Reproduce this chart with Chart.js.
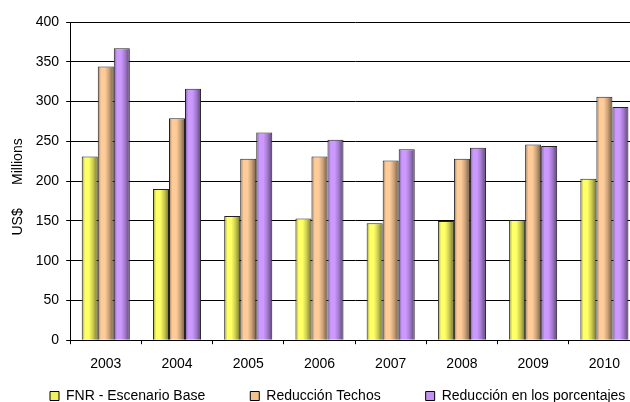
<!DOCTYPE html>
<html>
<head>
<meta charset="utf-8">
<script src="https://cdn.jsdelivr.net/npm/chart.js@4.4.1/dist/chart.umd.min.js"></script>
<style>
  html, body { margin: 0; padding: 0; background: #fff; overflow: hidden; }
  #wrap { width: 640px; height: 402px; position: relative; }
</style>
</head>
<body>
<div id="wrap"><canvas id="c"></canvas></div>
<script>
const years = ['2003', '2004', '2005', '2006', '2007', '2008', '2009', '2010'];
const seriesNames = ['FNR - Escenario Base', 'Reducción Techos', 'Reducción en los porcentajes'];
const fnrBase = [231, 190, 156, 153, 147, 150, 151, 203];
const reduccionTechos = [344, 279, 228, 231, 226, 228, 246, 306];
const reduccionPorcentajes = [367, 316, 261, 252, 240, 242, 244, 293];
const yTicks = [0, 50, 100, 150, 200, 250, 300, 350, 400];

const baseColors = [[255, 255, 102], [255, 204, 153], [204, 153, 255]];
const CAT_PCT = 0.675;
const FONT = 'Liberation Sans, Arial, sans-serif';

// Legend placement (first box left edge, row top)
const LEGEND_X = 50;
const LEGEND_Y = 389;
const LEGEND_GAP = 45;

function shade(rgb, f) {
  const c = rgb.map(v => Math.max(0, Math.min(255, Math.round(v * f))));
  return `rgb(${c[0]},${c[1]},${c[2]})`;
}

// Horizontal shading across each bar for a rounded, cylindrical look
function barFill(ctx) {
  const chart = ctx.chart;
  const rgb = baseColors[ctx.datasetIndex];
  const xs = chart.scales.x;
  if (!chart.chartArea || !xs || ctx.dataIndex === undefined) return shade(rgb, 1);
  const center = xs.getPixelForValue(ctx.dataIndex);
  const catW = xs.width / years.length;
  const group = catW * CAT_PCT;
  const barW = group / 3;
  const left = center - group / 2 + barW * ctx.datasetIndex;
  const g = chart.ctx.createLinearGradient(left, 0, left + barW, 0);
  g.addColorStop(0, shade(rgb, 0.6));
  g.addColorStop(0.2, shade(rgb, 1.0));
  g.addColorStop(0.45, shade(rgb, 1.0));
  g.addColorStop(0.7, shade(rgb, 0.8));
  g.addColorStop(1, shade(rgb, 0.45));
  return g;
}

// Keeps the legend on one row at a fixed spot, independent of the space it reserves
const legendPlacement = {
  id: 'legendPlacement',
  afterLayout(chart) {
    const lg = chart.legend;
    if (!lg) return;
    const pad = lg.options.labels.padding;
    lg.left = LEGEND_X - pad;
    lg.right = chart.width + 400;
    lg.top = LEGEND_Y - pad;
    lg.bottom = LEGEND_Y + 20;
    lg.height = lg.bottom - lg.top;
    lg.width = lg.right - lg.left;
  }
};

const values = [fnrBase, reduccionTechos, reduccionPorcentajes];

new Chart(document.getElementById('c'), {
  type: 'bar',
  data: {
    labels: years,
    datasets: values.map((v, i) => ({
      label: seriesNames[i],
      data: v,
      backgroundColor: barFill,
      borderColor: '#222',
      borderWidth: 1,
      categoryPercentage: CAT_PCT,
      barPercentage: 1.0
    }))
  },
  plugins: [legendPlacement],
  options: {
    responsive: true,
    maintainAspectRatio: false,
    animation: false,
    devicePixelRatio: 1,
    layout: { padding: { top: 22, right: 0, left: 4, bottom: 0 } },
    plugins: {
      tooltip: { enabled: false },
      legend: {
        position: 'bottom',
        align: 'start',
        maxHeight: 17,
        labels: {
          font: { family: FONT, size: 14 },
          color: '#000',
          boxWidth: 9,
          boxHeight: 9,
          padding: LEGEND_GAP,
          generateLabels: (chart) => chart.data.datasets.map((ds, i) => ({
            text: ds.label,
            fillStyle: shade(baseColors[i], 0.95),
            strokeStyle: '#000',
            lineWidth: 1,
            datasetIndex: i,
            hidden: false
          }))
        }
      }
    },
    scales: {
      x: {
        offset: true,
        grid: { display: true, drawOnChartArea: false, offset: true, color: '#000', tickLength: 4 },
        border: { color: '#000', width: 1 },
        ticks: {
          font: { family: FONT, size: 14 },
          color: '#000',
          padding: 12,
          maxRotation: 0
        }
      },
      y: {
        min: 0,
        max: 400,
        afterBuildTicks: (axis) => { axis.ticks = yTicks.map(v => ({ value: v })); },
        grid: { color: '#000', tickLength: 4 },
        border: { color: '#000', width: 1 },
        ticks: {
          font: { family: FONT, size: 14 },
          color: '#000',
          padding: 7
        },
        title: {
          display: true,
          text: 'US$      Millions   ',
          font: { family: FONT, size: 14 },
          color: '#000',
          padding: { top: 6, bottom: 2 }
        }
      }
    }
  }
});
</script>
</body>
</html>
